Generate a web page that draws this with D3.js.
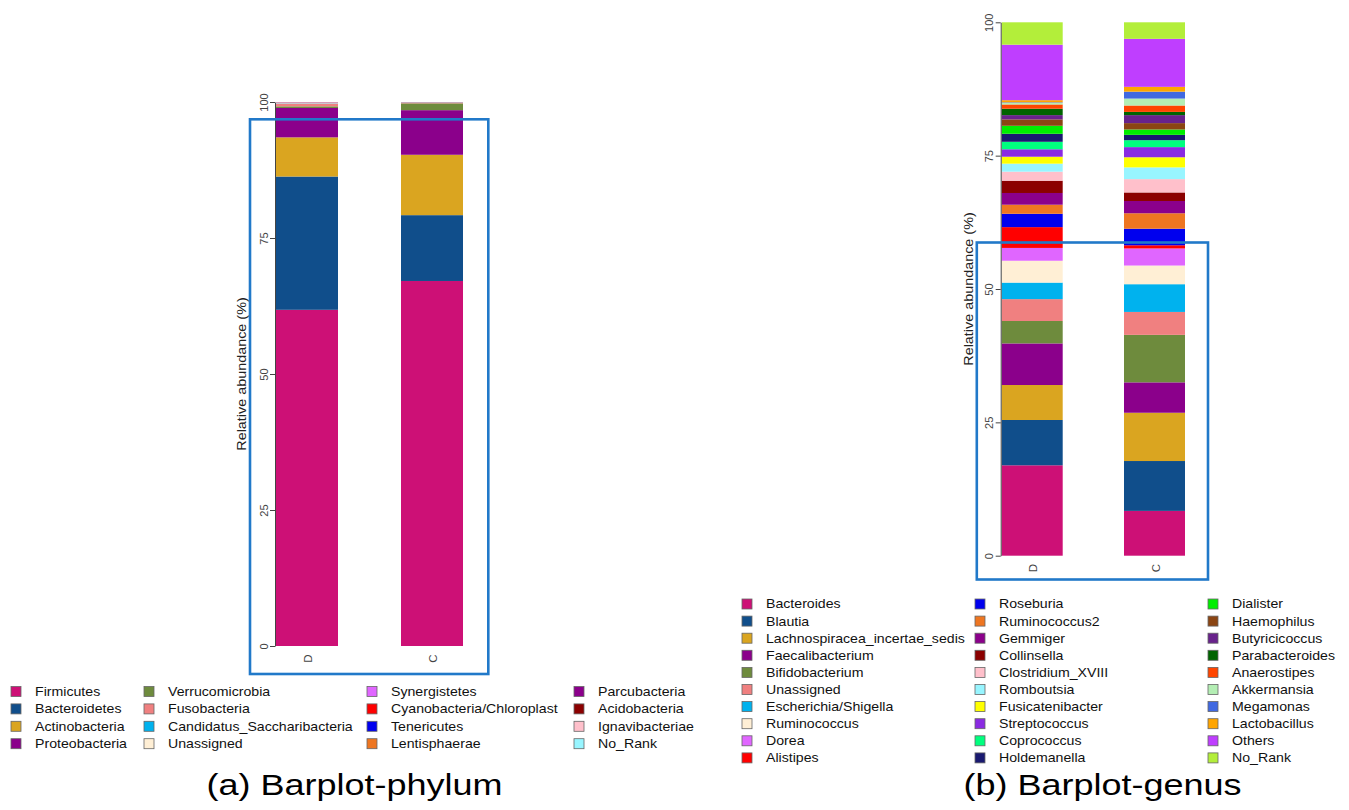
<!DOCTYPE html>
<html>
<head>
<meta charset="utf-8">
<script src="https://cdn.jsdelivr.net/npm/d3@7"></script>
<style>
  body { margin: 0; background: #fff; }
  svg { display: block; font-family: "Liberation Sans", Arial, sans-serif; }
  .axis path, .axis line { stroke: #444; }
  .axis text { fill: #444; }
</style>
</head>
<body>
<svg width="1349" height="810"></svg>
<script>
// samples
const samples = ["D", "C"];

// phylum level
const phylumNames = ["Firmicutes", "Bacteroidetes", "Actinobacteria", "Proteobacteria",
    "Verrucomicrobia", "Fusobacteria", "Candidatus_Saccharibacteria", "Unassigned",
    "Synergistetes", "Cyanobacteria/Chloroplast", "Tenericutes", "Lentisphaerae",
    "Parcubacteria", "Acidobacteria", "Ignavibacteriae", "No_Rank"];
const phylumColors = ["#CD1076", "#104E8B", "#DAA520", "#8B008B",
    "#6E8B3D", "#F08080", "#00B2EE", "#FFEFD5",
    "#E066FF", "#FF0000", "#0000EE", "#EE7621",
    "#8B008B", "#8B0000", "#FFC0CB", "#98F5FF"];
const phylumD = [61.8, 24.5, 7.2, 5.4, 0.3, 0.52, 0.05, 0.05, 0.02, 0.04, 0.02, 0.02, 0.02, 0.01, 0.03, 0.02];
const phylumC = [67.1, 12.1, 11.1, 8.2, 1.25, 0.08, 0.04, 0.03, 0.01, 0.02, 0.01, 0.02, 0.01, 0.01, 0.01, 0.01];

// genus level
const genusNames = ["Bacteroides", "Blautia", "Lachnospiracea_incertae_sedis", "Faecalibacterium",
    "Bifidobacterium", "Unassigned", "Escherichia/Shigella", "Ruminococcus", "Dorea", "Alistipes",
    "Roseburia", "Ruminococcus2", "Gemmiger", "Collinsella", "Clostridium_XVIII", "Romboutsia",
    "Fusicatenibacter", "Streptococcus", "Coprococcus", "Holdemanella",
    "Dialister", "Haemophilus", "Butyricicoccus", "Parabacteroides", "Anaerostipes",
    "Akkermansia", "Megamonas", "Lactobacillus", "Others", "No_Rank"];
const genusColors = ["#CD1076", "#104E8B", "#DAA520", "#8B008B",
    "#6E8B3D", "#F08080", "#00B2EE", "#FFEFD5", "#E066FF", "#FF0000",
    "#0000EE", "#EE7621", "#8B008B", "#8B0000", "#FFC0CB", "#98F5FF",
    "#FFFF00", "#8A2BE2", "#00FF7F", "#191970",
    "#00EE00", "#8B4513", "#68228B", "#006400", "#FF4500",
    "#B4EEB4", "#4169E1", "#FFA500", "#BF3EFF", "#B3EE3A"];
const genusD = [16.95, 8.49, 6.56, 7.8, 4.2, 4.1, 3.1, 4.1, 2.4, 3.9,
    2.5, 1.7, 2.2, 2.3, 1.7, 1.5, 1.3, 1.4, 1.4, 1.5,
    1.5, 1.2, 0.8, 1.2, 0.8, 0.3, 0.1, 0.4, 10.4, 4.2];
const genusC = [8.4, 9.35, 9.05, 5.7, 8.9, 4.3, 5.2, 3.5, 3.2, 0.6,
    3.1, 2.9, 2.3, 1.6, 2.5, 2.2, 1.9, 1.9, 1.3, 1.0,
    1.0, 1.2, 1.5, 0.6, 1.2, 1.3, 1.3, 0.9, 9.0, 3.1];

const yTicks = [0, 25, 50, 75, 100];

const svg = d3.select("svg");
const stretch = 1.15; // text in the reference is drawn a little wide

function drawPanel(p) {
    const g = svg.append("g");

    const rows = samples.map((s, i) => {
        const row = {sample: s};
        p.names.forEach((n, j) => row[n] = p.values[i][j]);
        return row;
    });
    const series = d3.stack().keys(p.names)(rows);
    const color = d3.scaleOrdinal().domain(p.names).range(p.colors);

    const y = d3.scaleLinear().domain([0, 100]).range(p.yRange);
    const x = d3.scalePoint().domain(samples).range(p.xCenters);

    g.selectAll(".layer")
        .data(series)
        .enter()
        .append("g")
        .attr("fill", d => color(d.key))
        .selectAll("rect")
        .data(d => d)
        .enter()
        .append("rect")
        .attr("x", d => x(d.data.sample) - p.barWidth / 2)
        .attr("width", p.barWidth)
        .attr("y", d => y(d[1]))
        .attr("height", d => Math.max(0, y(d[0]) - y(d[1])));

    const axis = g.append("g")
        .attr("class", "axis")
        .attr("transform", `translate(${p.axisX},0)`)
        .call(d3.axisLeft(y).tickValues(yTicks).tickSize(5).tickSizeOuter(0));
    axis.select(".domain").attr("stroke", "#444");
    axis.selectAll(".tick text")
        .attr("font-size", 11)
        .attr("text-anchor", "middle")
        .attr("x", null).attr("dy", null)
        .attr("transform", "translate(-7.5,0) rotate(-90)")
        .attr("y", 0);

    // sample labels
    g.selectAll(".xlab")
        .data(samples)
        .enter()
        .append("text")
        .attr("font-size", 11.5)
        .attr("fill", "#444")
        .attr("text-anchor", "middle")
        .attr("transform", d => `translate(${x(d) + 5},${y(0) + 12.5}) rotate(-90)`)
        .text(d => d);

    g.append("text")
        .attr("font-size", 12.5)
        .attr("fill", "#222")
        .attr("text-anchor", "middle")
        .attr("transform", `translate(${p.titleX},${(y(0) + y(100)) / 2}) rotate(-90) scale(${stretch},1)`)
        .text("Relative abundance (%)");

    // highlight box
    g.append("rect")
        .attr("x", p.box[0]).attr("y", p.box[1])
        .attr("width", p.box[2] - p.box[0]).attr("height", p.box[3] - p.box[1])
        .attr("fill", "none")
        .attr("stroke", "#2179C9")
        .attr("stroke-width", 2.6);

    // legend, column-major
    const leg = g.selectAll(".leg")
        .data(p.names)
        .enter()
        .append("g")
        .attr("transform", (d, i) => {
            const c = Math.floor(i / p.legRows), r = i % p.legRows;
            return `translate(${p.legX[c]},${p.legY + r * p.legStep})`;
        });
    leg.append("rect")
        .attr("x", 0).attr("y", -5)
        .attr("width", 10).attr("height", 10)
        .attr("fill", d => color(d))
        .attr("stroke", "#666")
        .attr("stroke-width", 0.8);
    leg.append("text")
        .attr("font-size", 12.3)
        .attr("fill", "#111")
        .attr("transform", `translate(${p.legText},4.4) scale(${stretch},1)`)
        .text(d => d);

    g.append("text")
        .attr("font-size", 30)
        .attr("fill", "#000")
        .attr("text-anchor", "middle")
        .attr("transform", `translate(${p.captionX},795) scale(1.2,1)`)
        .text(p.caption);
}

drawPanel({
    names: phylumNames, colors: phylumColors, values: [phylumD, phylumC],
    yRange: [646, 102], xCenters: [307, 432], barWidth: 62, axisX: 275,
    titleX: 245.5, box: [250, 119.3, 488.3, 674],
    legRows: 4, legX: [11, 144, 367, 574], legText: 24, legY: 691.5, legStep: 17.4,
    captionX: 354.5, caption: "(a) Barplot-phylum"
});

drawPanel({
    names: genusNames, colors: genusColors, values: [genusD, genusC],
    yRange: [555.7, 22.3], xCenters: [1032.2, 1154.5], barWidth: 61, axisX: 1000.7,
    titleX: 973, box: [976.8, 242.5, 1208, 579.5],
    legRows: 10, legX: [742, 975, 1208], legText: 24, legY: 604, legStep: 17.1,
    captionX: 1102.5, caption: "(b) Barplot-genus"
});
</script>
</body>
</html>
